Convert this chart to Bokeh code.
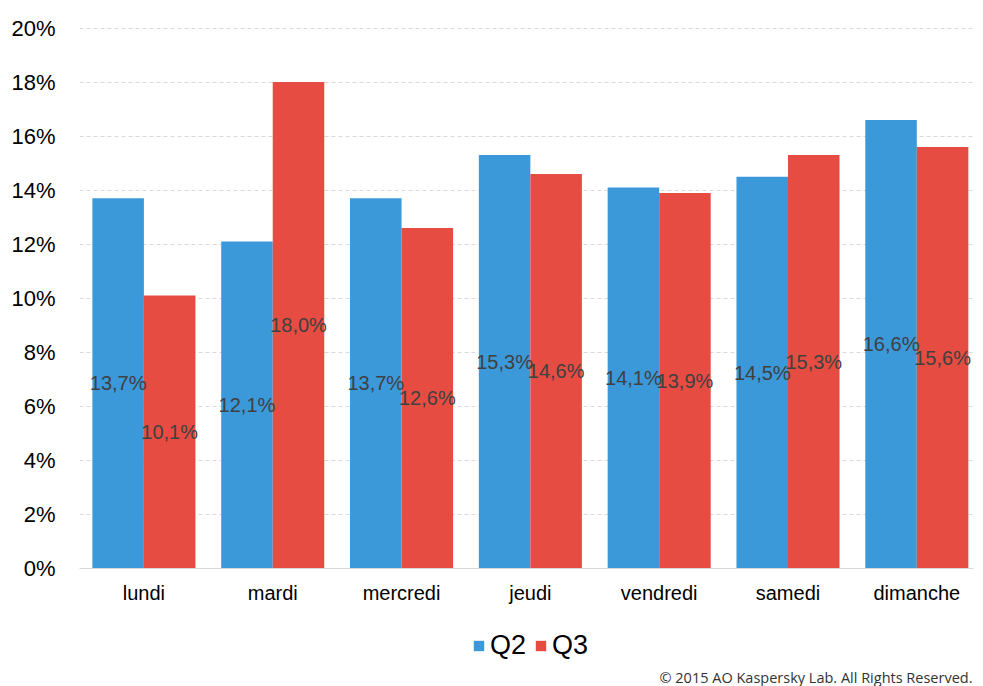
from bokeh.plotting import figure
from bokeh.models import ColumnDataSource, FixedTicker, Legend, LegendItem, Label
from bokeh.layouts import column
from bokeh.transform import dodge
from bokeh.core.properties import value
from bokeh.embed import file_html
from bokeh.resources import INLINE

days = ["lundi", "mardi", "mercredi", "jeudi", "vendredi", "samedi", "dimanche"]
q2 = [13.7, 12.1, 13.7, 15.3, 14.1, 14.5, 16.6]
q3 = [10.1, 18.0, 12.6, 14.6, 13.9, 15.3, 15.6]
y_ticks = [0, 2, 4, 6, 8, 10, 12, 14, 16, 18, 20]
series_names = ["Q2", "Q3"]
credit_text = "\u00a9 2015 AO Kaspersky Lab. All Rights Reserved."

BLUE = "#3b99da"
RED = "#e74c42"

def fmt(v):
    return ("%.1f" % v).replace(".", ",") + "%"

idx = list(range(len(days)))
src = ColumnDataSource(dict(
    idx=idx, q2=q2, q3=q3,
    q2_mid=[v / 2 for v in q2], q3_mid=[v / 2 for v in q3],
    q2_lbl=[fmt(v) for v in q2], q3_lbl=[fmt(v) for v in q3],
))

p = figure(width=975, height=610, frame_width=894, frame_height=541,
           x_range=(-0.5, 6.44), y_range=(0, 20.02),
           output_backend="svg", toolbar_location=None,
           min_border_left=79, min_border_right=2, min_border_top=27,
           min_border_bottom=42)
p.outline_line_color = None
p.background_fill_color = "white"

p.vbar(x=dodge("idx", -0.2), top="q2", width=0.4, source=src,
       fill_color=BLUE, line_color=None)
p.vbar(x=dodge("idx", 0.2), top="q3", width=0.4, source=src,
       fill_color=RED, line_color=None)

p.text(x=dodge("idx", -0.2), y="q2_mid", text="q2_lbl", source=src,
       text_align="center", text_baseline="middle",
       text_font=value("Liberation Sans"), text_font_size="20px",
       text_color="#404040")
p.text(x=dodge("idx", 0.2), y="q3_mid", text="q3_lbl", source=src,
       text_align="center", text_baseline="middle",
       text_font=value("Liberation Sans"), text_font_size="20px",
       text_color="#404040")

# axes
p.xaxis.ticker = FixedTicker(ticks=idx)
p.xaxis.major_label_overrides = {i: d for i, d in zip(idx, days)}
p.xaxis.major_tick_line_color = None
p.xaxis.minor_tick_line_color = None
p.xaxis.axis_line_color = "#d9d9d9"
p.xaxis.axis_line_width = 1
p.xaxis.major_label_text_font = "Liberation Sans"
p.xaxis.major_label_text_font_size = "20px"
p.xaxis.major_label_text_color = "#000000"
p.xaxis.major_label_standoff = 13
p.xaxis.major_tick_out = 0

p.yaxis.ticker = FixedTicker(ticks=y_ticks)
p.yaxis.major_label_overrides = {t: "%d%%" % t for t in y_ticks}
p.yaxis.axis_line_color = None
p.yaxis.major_tick_line_color = None
p.yaxis.minor_tick_line_color = None
p.yaxis.major_tick_out = 0
p.yaxis.major_label_standoff = 24
p.yaxis.major_label_text_font = "Liberation Sans"
p.yaxis.major_label_text_font_size = "22px"
p.yaxis.major_label_text_color = "#000000"

p.xgrid.grid_line_color = None
p.ygrid.grid_line_color = "#d9d9d9"
p.ygrid.grid_line_dash = "4 3"
p.ygrid.grid_line_width = 1

# footer figure: legend + credit (its frame is aligned with the main frame)
f = figure(width=975, height=76, x_range=(0, 1), y_range=(0, 1),
           output_backend="svg", toolbar_location=None,
           x_axis_location=None, y_axis_location=None,
           min_border=0, min_border_left=0, min_border_right=0,
           min_border_top=0, min_border_bottom=0)
f.outline_line_color = None
f.xgrid.grid_line_color = None
f.ygrid.grid_line_color = None
swatch = ColumnDataSource(dict(x=[float("nan")], top=[float("nan")]))
k2 = f.vbar(x="x", top="top", width=1, source=swatch, fill_color=BLUE, line_color=None)
k3 = f.vbar(x="x", top="top", width=1, source=swatch, fill_color=RED, line_color=None)

legend = Legend(items=[LegendItem(label=series_names[0], renderers=[k2]),
                       LegendItem(label=series_names[1], renderers=[k3])],
                orientation="horizontal", location=(393, 25),
                glyph_width=13, glyph_height=13, label_standoff=5,
                spacing=8, padding=0, margin=0,
                label_text_font="Liberation Sans", label_text_font_size="27px",
                label_text_color="#000000",
                border_line_color=None, background_fill_alpha=0)
f.add_layout(legend, "center")

credit = Label(x=893, y=9, x_units="screen", y_units="screen",
               text=credit_text,
               text_align="right", text_baseline="middle",
               text_font="Open Sans", text_font_size="14.5px",
               text_color="#333333")
f.add_layout(credit)

open("out.html", "w").write(file_html(column(p, f, spacing=0), INLINE))
